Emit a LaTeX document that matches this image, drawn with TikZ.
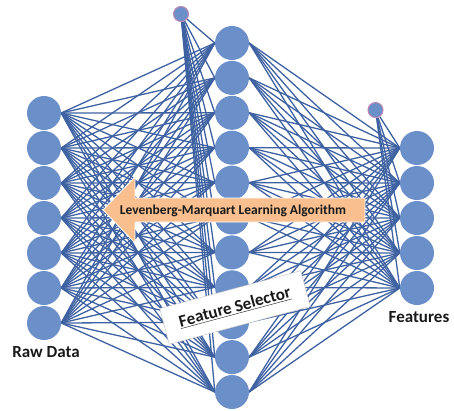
\documentclass[tikz,border=0pt]{standalone}
\usepackage{fontspec}
\setmainfont{Carlito}
\usetikzlibrary{backgrounds}
\definecolor{NodeClr}{rgb}{0.42,0.56,0.79}
\definecolor{LinkClr}{rgb}{0.24,0.38,0.63}
\definecolor{BiasClr}{rgb}{0.74,0.53,0.70}
\definecolor{ArrowClr}{rgb}{0.98,0.75,0.56}

\begin{document}
\begin{tikzpicture}[x=1pt,y=-1pt,
  neuron/.style={circle,fill=NodeClr,inner sep=0pt,minimum size=34pt},
  bias/.style={circle,fill=NodeClr,draw=BiasClr,line width=1pt,inner sep=0pt,minimum size=15pt},
  link/.style={draw=LinkClr,line width=1.3pt},
  lbl/.style={font=\fontsize{17}{19}\selectfont\bfseries,text=black!90}]
\useasboundingbox (0,0) rectangle (454,410);

\foreach \i in {1,...,7}
  \node[neuron] (L\i) at (44,{113+35*(\i-1)}) {};
\foreach \j in {1,...,11}
  \node[neuron] (M\j) at (232,{43+34.9*(\j-1)}) {};
\foreach \k in {1,...,5}
  \node[neuron] (R\k) at (417,{148+35*(\k-1)}) {};

\node[bias] (B1) at (181,14) {};
\node[bias] (B2) at (375.5,110) {};

\begin{scope}[on background layer]
\foreach \i in {1,...,7}
  \foreach \j in {1,...,11}
    \draw[link] (L\i.east) -- (M\j.west);
\foreach \j in {1,...,11}{
  \draw[link] (B1) -- (M\j.west);
  \foreach \k in {1,...,5}
    \draw[link] (M\j.east) -- (R\k.west);
}
\foreach \k in {1,...,5}
  \draw[link] (B2) -- (R\k.west);
\end{scope}

% learning arrow
\fill[ArrowClr,draw=white,line width=0.8pt]
  (103,210) -- (135,177) -- (135,198) -- (365,198) -- (365,222)
  -- (135,222) -- (135,243) -- cycle;
\node[font=\fontsize{13.5}{15}\selectfont\bfseries,text=black!90] (lma) at (233,211)
  {Levenberg-Marquart Learning Algorithm};

% selector box
\node[draw=black!25,fill=white,rotate=15,minimum width=146pt,minimum height=37pt,
  font=\fontsize{17}{19}\selectfont\bfseries,text=black!90] (fs) at (235,307.5)
  {\underline{Feature Selector}};

\node[lbl] (raw) at (46,352) {Raw Data};
\node[lbl] (feat) at (419,317) {Features};
\end{tikzpicture}
\end{document}
